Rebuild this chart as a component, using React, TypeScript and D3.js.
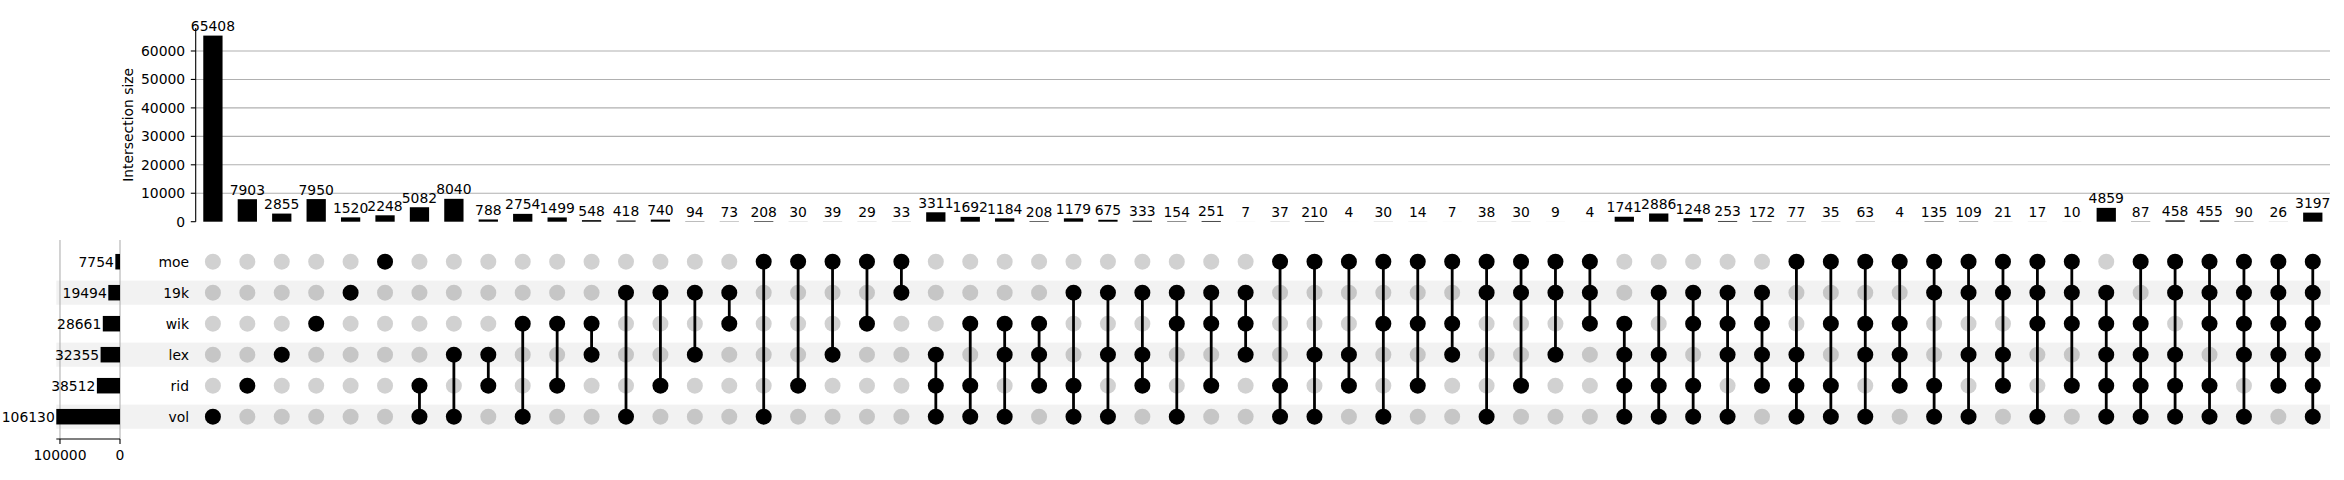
import * as d3 from "d3"

const SETS = ["moe", "19k", "wik", "lex", "rid", "vol"]
const SET_TOTALS = [7754, 19494, 28661, 32355, 38512, 106130]
const TOP_TICKS = [0, 10000, 20000, 30000, 40000, 50000, 60000]
const TOTAL_TICKS = [100000, 0]

const SIZES = [
  65408, 7903, 2855, 7950, 1520, 2248, 5082, 8040, 788, 2754, 1499, 548, 418, 740, 94, 73, 208, 30, 39, 29, 33,
  3311, 1692, 1184, 208, 1179, 675, 333, 154, 251, 7, 37, 210, 4, 30, 14, 7, 38, 30, 9, 4,
  1741, 2886, 1248, 253, 172, 77, 35, 63, 4, 135, 109, 21, 17, 10, 4859, 87, 458, 455, 90, 26, 3197,
]

const MEMBERS: string[][] = [
  ["vol"], ["rid"], ["lex"], ["wik"], ["19k"], ["moe"],
  ["rid", "vol"], ["lex", "vol"], ["lex", "rid"], ["wik", "vol"], ["wik", "rid"], ["wik", "lex"],
  ["19k", "vol"], ["19k", "rid"], ["19k", "lex"], ["19k", "wik"],
  ["moe", "vol"], ["moe", "rid"], ["moe", "lex"], ["moe", "wik"], ["moe", "19k"],
  ["lex", "rid", "vol"], ["wik", "rid", "vol"], ["wik", "lex", "vol"], ["wik", "lex", "rid"],
  ["19k", "rid", "vol"], ["19k", "lex", "vol"], ["19k", "lex", "rid"], ["19k", "wik", "vol"], ["19k", "wik", "rid"], ["19k", "wik", "lex"],
  ["moe", "rid", "vol"], ["moe", "lex", "vol"], ["moe", "lex", "rid"], ["moe", "wik", "vol"], ["moe", "wik", "rid"],
  ["moe", "wik", "lex"], ["moe", "19k", "vol"], ["moe", "19k", "rid"], ["moe", "19k", "lex"], ["moe", "19k", "wik"],
  ["wik", "lex", "rid", "vol"], ["19k", "lex", "rid", "vol"], ["19k", "wik", "rid", "vol"], ["19k", "wik", "lex", "vol"], ["19k", "wik", "lex", "rid"],
  ["moe", "lex", "rid", "vol"], ["moe", "wik", "rid", "vol"], ["moe", "wik", "lex", "vol"], ["moe", "wik", "lex", "rid"],
  ["moe", "19k", "rid", "vol"], ["moe", "19k", "lex", "vol"], ["moe", "19k", "lex", "rid"], ["moe", "19k", "wik", "vol"], ["moe", "19k", "wik", "rid"],
  ["19k", "wik", "lex", "rid", "vol"], ["moe", "wik", "lex", "rid", "vol"], ["moe", "19k", "lex", "rid", "vol"],
  ["moe", "19k", "wik", "rid", "vol"], ["moe", "19k", "wik", "lex", "vol"], ["moe", "19k", "wik", "lex", "rid"],
  ["moe", "19k", "wik", "lex", "rid", "vol"],
]

const W = 2344, H = 480
const FONT = "DejaVu Sans"
const FS = 13.9

export default function App() {
  const n = SIZES.length
  // shared column scale for the bars and the matrix
  const x = d3.scaleLinear().domain([-0.5, n - 0.5]).range([195.7, 2330])
  const step = x(1) - x(0)
  const barW = step * 0.56
  const y = d3.scaleLinear().domain([0, 68080]).range([221.7, 28])
  const row = d3.scaleLinear().domain([-0.5, SETS.length - 0.5]).range([246.2, 432.2])
  const rowStep = row(1) - row(0)
  const tx = d3.scaleLinear().domain([0, 106130]).range([120, 56.3])
  const axisY = 439

  return (
    <svg width={W} height={H} style={{ position: "absolute", left: 0, top: 0, background: "#fff" }}
      fontFamily={FONT} fontSize={FS}>
      {/* intersection size axis */}
      {TOP_TICKS.filter(t => t > 0).map(t => (
        <line key={"g" + t} x1={x(-0.5)} x2={x(n - 0.5)} y1={y(t)} y2={y(t)} stroke="#b0b0b0" strokeWidth={1.1} />
      ))}
      <line x1={x(-0.5)} x2={x(-0.5)} y1={y.range()[1]} y2={y.range()[0]} stroke="#000" strokeWidth={1.1} />
      {TOP_TICKS.map(t => (
        <g key={"t" + t}>
          <line x1={x(-0.5) - 4.9} x2={x(-0.5)} y1={y(t)} y2={y(t)} stroke="#000" strokeWidth={1.1} />
          <text x={x(-0.5) - 10.5} y={y(t) + 5} textAnchor="end">{t}</text>
        </g>
      ))}
      <text transform={`translate(133.3,${(y.range()[0] + y.range()[1]) / 2}) rotate(-90)`} textAnchor="middle">
        Intersection size
      </text>
      {SIZES.map((v, i) => (
        <g key={"b" + i}>
          <rect x={x(i) - barW / 2} y={y(v)} width={barW} height={y(0) - y(v)} fill="#000" />
          <text x={x(i)} y={y(v) - 4.5} textAnchor="middle">{v}</text>
        </g>
      ))}

      {/* row shading */}
      {SETS.map((s, j) => j % 2 === 1 ? (
        <rect key={"sh" + s} x={tx.range()[1]} width={x(n - 0.5) - tx.range()[1]}
          y={row(j) - rowStep * 0.39} height={rowStep * 0.78} fill="#000" fillOpacity={0.05} />
      ) : null)}

      {/* set totals */}
      {TOTAL_TICKS.map(t => (
        <line key={"tg" + t} x1={tx(t)} x2={tx(t)} y1={240} y2={axisY} stroke="#b0b0b0" strokeWidth={1.1} />
      ))}
      {SET_TOTALS.map((v, j) => (
        <g key={"st" + j}>
          <rect x={tx(v)} y={row(j) - rowStep * 0.25} width={tx(0) - tx(v)} height={rowStep * 0.5} fill="#000" />
          <text x={tx(v) - 1.5} y={row(j) + 5} textAnchor="end">{v}</text>
        </g>
      ))}
      <line x1={tx.range()[1]} x2={tx(0)} y1={axisY} y2={axisY} stroke="#000" strokeWidth={1.1} />
      {TOTAL_TICKS.map(t => (
        <g key={"tt" + t}>
          <line x1={tx(t)} x2={tx(t)} y1={axisY} y2={axisY + 4.9} stroke="#000" strokeWidth={1.1} />
          <text x={tx(t)} y={459.7} textAnchor="middle">{t}</text>
        </g>
      ))}

      {/* set labels */}
      {SETS.map((s, j) => (
        <text key={"sl" + s} x={189} y={row(j) + 5} textAnchor="end">{s}</text>
      ))}

      {/* matrix */}
      {MEMBERS.map((m, i) => {
        const idx = m.map(s => SETS.indexOf(s))
        const lo = d3.min(idx)!, hi = d3.max(idx)!
        return (
          <g key={"m" + i}>
            {SETS.map((s, j) => !m.includes(s) ? (
              <circle key={s} cx={x(i)} cy={row(j)} r={8} fill="#000" fillOpacity={0.18} />
            ) : null)}
            {hi > lo ? <line x1={x(i)} x2={x(i)} y1={row(lo)} y2={row(hi)} stroke="#000" strokeWidth={2.8} /> : null}
            {idx.map(j => <circle key={"a" + j} cx={x(i)} cy={row(j)} r={8} fill="#000" />)}
          </g>
        )
      })}
    </svg>
  )
}
